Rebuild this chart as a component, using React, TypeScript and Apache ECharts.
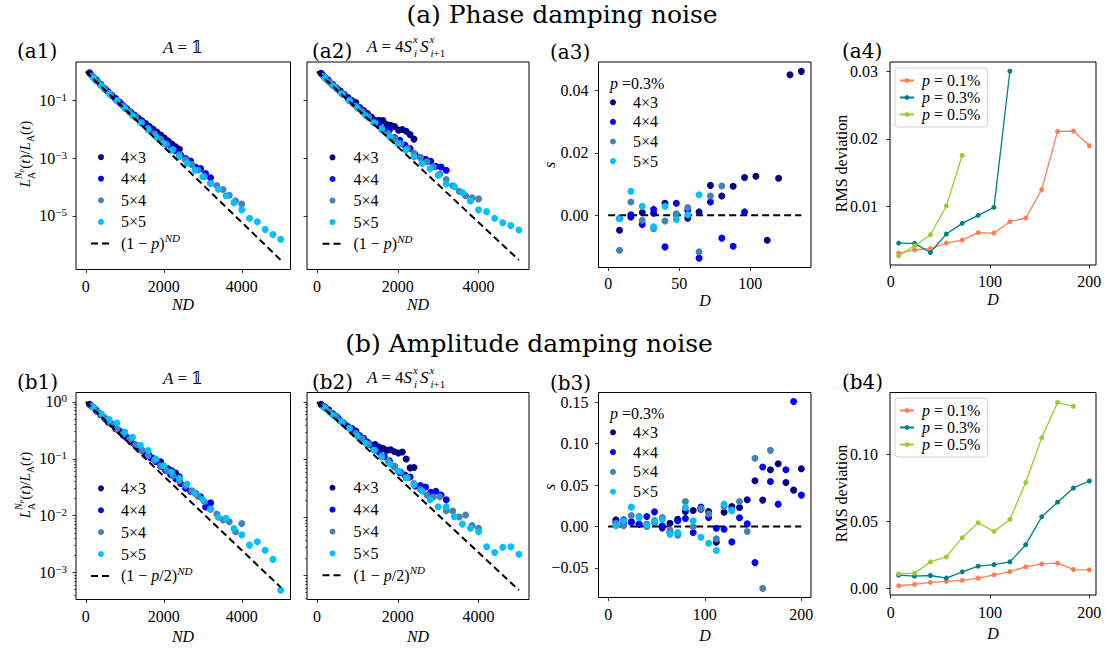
import { useEffect, useRef } from 'react';
import * as echarts from 'echarts';

const SERIF = 'Liberation Serif, DejaVu Serif, DejaVu Sans, serif';
const HEAD = 'DejaVu Serif, Liberation Serif, serif';

// circuit depths and lattice sizes
const depths = [8, 16, 24, 32, 40, 48, 56, 64, 72, 80, 88, 96, 104, 112, 120, 128, 136, 144, 152, 160, 168, 176, 184, 192, 200];
const rmsDepths = [8, 24, 40, 56, 72, 88, 104, 120, 136, 152, 168, 184, 200];
const lattices = ['4×3', '4×4', '5×4', '5×5'];
const siteCounts = [12, 16, 20, 25];
const latticeColors = ['#000080', '#0000ff', '#4682b4', '#00bfff'];
const rmsLabels = ['p = 0.1%', 'p = 0.3%', 'p = 0.5%'];
const rmsColors = ['#ff7f50', '#008080', '#9acd32'];
const RULE_A = '(1 − p)^ND';
const RULE_B = '(1 − p/2)^ND';

// log10 of L_A^{Np}(t)/L_A(t), phase damping, A = 1
const phaseId43 = [-0.045, -0.19, -0.326, -0.451, -0.586, -0.70, -0.827, -0.94, -1.057, -1.18, -1.30, -1.40, -1.51, -1.61, -1.71, -1.80, -1.91, -2.00, -2.10, -2.20, -2.30, -2.41, -2.51, -2.61, -2.69];
const phaseId44 = [-0.097, -0.284, -0.451, -0.628, -0.795, -0.952, -1.109, -1.266, -1.423, -1.57, -1.717, -1.864, -2.011, -2.158, -2.305, -2.452, -2.599, -2.746, -2.893, -3.01, -3.097, -3.304, -3.361, -3.528, -3.675];
const phaseId54 = [-0.159, -0.368, -0.586, -0.795, -0.994, -1.193, -1.391, -1.59, -1.779, -1.968, -2.156, -2.345, -2.524, -2.703, -2.882, -3.06, -3.219, -3.408, -3.637, -3.865, -3.944, -4.083, -4.282, -4.471, -4.589];
const phaseId55 = [-0.231, -0.492, -0.763, -1.024, -1.275, -1.526, -1.777, -2.018, -2.259, -2.49, -2.721, -2.952, -3.172, -3.413, -3.644, -3.875, -4.076, -4.297, -4.538, -4.789, -5.08, -5.201, -5.462, -5.643, -5.804];

// log10 ratio, phase damping, A = 4 S^x_i S^x_{i+1}
const phaseXX43 = [-0.065, -0.201, -0.326, -0.451, -0.566, -0.682, -0.797, -0.902, -1.007, -1.073, -1.248, -1.353, -1.458, -1.574, -1.689, -1.694, -1.699, -1.835, -1.86, -1.905, -2.03, -2.006, -2.071, -2.186, -2.341];
const phaseXX44 = [-0.107, -0.284, -0.451, -0.618, -0.785, -0.942, -1.099, -1.256, -1.413, -1.57, -1.717, -1.864, -1.991, -2.028, -2.285, -2.382, -2.549, -2.666, -2.883, -2.98, -3.037, -3.104, -3.281, -3.308, -3.415];
const phaseXX54 = [-0.169, -0.378, -0.586, -0.795, -0.994, -1.193, -1.391, -1.59, -1.779, -1.968, -2.146, -2.325, -2.494, -2.663, -2.832, -2.98, -3.129, -3.298, -3.547, -3.735, -3.954, -4.143, -4.302, -4.371, -4.409];
const phaseXX55 = [-0.241, -0.502, -0.763, -1.024, -1.275, -1.526, -1.777, -2.018, -2.259, -2.49, -2.721, -2.952, -3.182, -3.363, -3.594, -3.895, -3.986, -4.187, -4.478, -4.789, -4.85, -5.081, -5.232, -5.333, -5.484];

// log10 ratio, amplitude damping, A = 1
const ampId43 = [-0.043, -0.095, -0.168, -0.22, -0.283, -0.356, -0.398, -0.471, -0.513, -0.586, -0.628, -0.701, -0.744, -0.796, -0.849, -0.901, -0.944, -0.996, -1.039, -1.052, -1.164, -1.177, -1.209, -1.252, -1.315];
const ampId44 = [-0.063, -0.137, -0.22, -0.304, -0.377, -0.461, -0.534, -0.617, -0.691, -0.764, -0.838, -0.911, -0.984, -1.048, -1.131, -1.205, -1.278, -1.351, -1.435, -1.518, -1.572, -1.605, -1.668, -1.847, -1.775];
const ampId54 = [-0.074, -0.179, -0.273, -0.377, -0.471, -0.566, -0.66, -0.754, -0.848, -0.943, -1.027, -1.121, -1.205, -1.30, -1.384, -1.468, -1.562, -1.657, -1.751, -1.885, -1.969, -2.074, -2.108, -2.282, -2.137];
const ampId55 = [-0.10, -0.211, -0.311, -0.371, -0.532, -0.622, -0.762, -0.853, -1.003, -1.123, -1.234, -1.344, -1.444, -1.605, -1.715, -1.885, -2.026, -2.046, -2.226, -2.337, -2.517, -2.457, -2.608, -2.768, -3.308];

// log10 ratio, amplitude damping, A = 4 S^x_i S^x_{i+1}
const ampXX43 = [-0.043, -0.085, -0.138, -0.21, -0.253, -0.326, -0.378, -0.431, -0.463, -0.506, -0.588, -0.631, -0.694, -0.746, -0.739, -0.781, -0.804, -0.836, -0.829, -0.862, -0.884, -0.867, -0.989, -1.142, -1.135];
const ampXX44 = [-0.063, -0.127, -0.20, -0.274, -0.357, -0.431, -0.504, -0.577, -0.651, -0.724, -0.798, -0.871, -0.944, -1.018, -1.121, -1.225, -1.268, -1.301, -1.455, -1.448, -1.472, -1.565, -1.548, -1.612, -1.695];
const ampXX54 = [-0.084, -0.179, -0.263, -0.357, -0.451, -0.546, -0.64, -0.734, -0.838, -0.933, -1.027, -1.121, -1.215, -1.31, -1.414, -1.518, -1.612, -1.647, -1.641, -1.885, -1.889, -1.994, -1.958, -2.142, -2.187];
const ampXX55 = [-0.11, -0.231, -0.341, -0.461, -0.592, -0.712, -0.832, -0.953, -1.073, -1.193, -1.314, -1.434, -1.544, -1.695, -1.815, -1.815, -1.986, -2.116, -2.186, -2.247, -2.507, -2.607, -2.518, -2.508, -2.638];

// reference decay curves (ND, value) at the ends of the range
const ruleA = [[0, 1], [5000, 2.99e-7]];
const ruleB = [[0, 1], [5000, 5.5e-4]];

// s versus D at p = 0.3%
const phaseS43 = [-0.0048, -0.0005, 0.0009, 0.0007, 0.0039, 0.0003, -0.0009, 0.0011, 0.0096, 0.0062, 0.0093, 0.0121, 0.0125, -0.008, 0.0119, 0.045, 0.0461];
const phaseS44 = [-0.001, 0.0002, -0.0029, 0.0019, -0.0101, 0.0039, 0.0016, -0.0137, 0.0043, -0.0073, -0.0099, 0.0011];
const phaseS54 = [-0.0112, 0.0043, -0.0016, -0.0043, -0.0018, 0.0005, 0.0025, -0.0117, 0.0062, 0.0094];
const phaseS55 = [-0.0011, 0.0077, 0.0029, -0.0037, 0.0029, -0.0013, 0.0002, 0.0066];

const ampS43 = [0.008, 0.004, 0.006, 0.0024, 0.0028, 0.0048, -0.0016, 0.004, 0.0089, 0.0181, 0.0194, 0.021, 0.0181, -0.019, 0.0173, 0.0242, 0.023, 0.0323, 0.0552, 0.0319, 0.0685, 0.0758, 0.0532, 0.0439, 0.0698];
const ampS44 = [0.005, 0.008, 0.0048, 0.003, 0.0121, 0.0177, 0.0008, -0.0073, 0.0069, 0.0097, -0.0073, 0.0234, 0.0109, -0.002, -0.0032, -0.0185, 0.0105, 0.0032, -0.0435, 0.0718, 0.0544, 0.027, 0.0685, 0.1508, 0.0379];
const ampS54 = [0.004, 0.001, 0.0133, 0.0121, 0.0, 0.0073, 0.0109, -0.004, -0.0105, 0.0302, 0.0, 0.0218, 0.0153, -0.0149, 0.0242, 0.0202, 0.0302, -0.006, 0.0823, -0.0746, 0.0919];
const ampS55 = [0.001, 0.007, 0.0234, 0.0105, 0.002, 0.0056, 0.0089, -0.0093, -0.0073, 0.023, 0.0069, -0.0129, -0.0202, -0.029, 0.027, 0.019];

// RMS deviation versus D
const phaseRms01 = [0.00314, 0.00363, 0.00378, 0.00462, 0.00506, 0.00615, 0.0061, 0.00778, 0.00832, 0.01252, 0.02111, 0.02116, 0.01899];
const phaseRms03 = [0.00462, 0.00457, 0.00323, 0.00595, 0.00753, 0.00872, 0.0099, 0.03];
const phaseRms05 = [0.00274, 0.00422, 0.00585, 0.0101, 0.01756];
const ampRms01 = [0.00198, 0.00296, 0.00444, 0.00519, 0.00593, 0.00765, 0.01012, 0.01259, 0.01605, 0.01827, 0.01877, 0.01407, 0.01383];
const ampRms03 = [0.00988, 0.00914, 0.00963, 0.00765, 0.01235, 0.01654, 0.01778, 0.01975, 0.03259, 0.05333, 0.0642, 0.07481, 0.08];
const ampRms05 = [0.01086, 0.01136, 0.01975, 0.02346, 0.03778, 0.04889, 0.04247, 0.05136, 0.07901, 0.1121, 0.1385, 0.1356];

// plot rectangles: left, top, width, height
const boxes = [
  [76, 62, 214.5, 207.5],
  [307, 62, 222, 207.5],
  [598.5, 62, 212.5, 205.5],
  [890, 62, 206, 203],
  [76, 392.5, 214.5, 207],
  [307, 392.5, 222, 207],
  [598.5, 392.5, 212.5, 205],
  [890, 392.5, 206, 202.5],
];

let measureCtx: CanvasRenderingContext2D | null = null;
function textWidth(t: string, size: number, italic: boolean) {
  if (!measureCtx) measureCtx = document.createElement('canvas').getContext('2d');
  measureCtx!.font = `${italic ? 'italic ' : ''}${size}px ${SERIF}`;
  return measureCtx!.measureText(t).width;
}

// a run of text pieces laid out left to right; a stacked piece shares its x with the next one
type Seg = { t: string; it?: boolean; sz?: number; dy?: number; stack?: boolean; gap?: number };
function mathLabel(segs: Seg[], x: number, y: number, align: 'left' | 'center', rotation = 0, base = 16) {
  let cx = 0;
  const kids: any[] = [];
  for (const s of segs) {
    const size = s.sz ?? base;
    cx += s.gap ?? 0;
    kids.push({
      type: 'text', x: cx, y: s.dy ?? 0,
      style: { text: s.t, fontSize: size, fontFamily: SERIF, fontStyle: s.it ? 'italic' : 'normal', fill: '#000', align: 'left', verticalAlign: 'middle' },
    });
    if (!s.stack) cx += textWidth(s.t, size, !!s.it);
  }
  const shift = align === 'center' ? -cx / 2 : 0;
  kids.forEach((k) => { k.x += shift; });
  return { type: 'group', x, y, rotation, children: kids };
}

function plainText(text: string, x: number, y: number, size: number, font = SERIF, italic = false, align = 'center', rotation = 0) {
  return {
    type: 'text', x, y, rotation,
    style: { text, fontSize: size, fontFamily: font, fontStyle: italic ? 'italic' : 'normal', fill: '#000', align, verticalAlign: 'middle' },
  };
}

const tickLine = { color: '#000', width: 0.8 };
const labelRich = {
  b: { fontSize: 16, fontFamily: SERIF, color: '#000', lineHeight: 18 },
  s: { fontSize: 11, fontFamily: SERIF, color: '#000', verticalAlign: 'top', lineHeight: 10 },
};
const powLabel = (v: number) => {
  const e = Math.round(Math.log10(v));
  return `{b|10}{s|${e < 0 ? '−' : ''}${Math.abs(e)}}`;
};
const decimal2 = (v: number) => (v < 0 ? '−' : '') + Math.abs(v).toFixed(2);

function valueAxis(gridIndex: number, min: number, max: number, ticks: number[], fmt: (v: number) => string, margin: number) {
  return {
    type: 'value', gridIndex, min, max,
    splitLine: { show: false },
    axisLine: { show: false, onZero: false },
    axisTick: { show: true, length: 3.5, customValues: ticks, lineStyle: tickLine },
    axisLabel: { show: true, customValues: ticks, formatter: fmt, fontFamily: SERIF, fontSize: 16, color: '#000', margin },
  };
}
function logAxis(gridIndex: number, min: number, max: number, ticks: number[], showLabels: boolean) {
  return {
    type: 'log', logBase: 10, gridIndex, min, max,
    splitLine: { show: false },
    minorTick: { show: false },
    axisLine: { show: false, onZero: false },
    axisTick: { show: true, length: 3.5, customValues: ticks, lineStyle: tickLine },
    axisLabel: { show: showLabels, customValues: ticks, formatter: powLabel, fontFamily: SERIF, rich: labelRich, margin: 9 },
  };
}
function minorLogAxis(gridIndex: number, min: number, max: number, ticks: number[]) {
  return {
    type: 'log', logBase: 10, gridIndex, min, max, position: 'left',
    splitLine: { show: false },
    axisLine: { show: false, onZero: false },
    axisTick: { show: true, length: 2, customValues: ticks, lineStyle: { color: '#000', width: 0.6 } },
    axisLabel: { show: false },
  };
}

function ratioSeries(panel: number, logs: number[][], ruleName: string, rule: number[][]) {
  const out: any[] = logs.map((arr, s) => ({
    type: 'scatter', name: lattices[s], xAxisIndex: panel, yAxisIndex: panel,
    symbolSize: 7, itemStyle: { color: latticeColors[s], opacity: 1 },
    data: arr.map((v, k) => [siteCounts[s] * depths[k], Math.pow(10, v)]),
  }));
  out.push({
    type: 'line', name: ruleName, xAxisIndex: panel, yAxisIndex: panel, symbol: 'none',
    lineStyle: { color: '#000', width: 2, type: [7, 4] }, itemStyle: { color: 'rgba(0,0,0,0)' }, data: rule, z: 3,
  });
  return out;
}
function sSeries(panel: number, sets: number[][], lastD: number) {
  const out: any[] = sets.map((arr, s) => ({
    type: 'scatter', name: lattices[s], xAxisIndex: panel, yAxisIndex: panel,
    symbolSize: 7, itemStyle: { color: latticeColors[s], opacity: 1 },
    data: arr.map((v, k) => [depths[k], v]),
  }));
  out.unshift({
    type: 'line', name: 'zero', xAxisIndex: panel, yAxisIndex: panel, symbol: 'none',
    lineStyle: { color: '#000', width: 2, type: [7, 4] }, data: [[0, 0], [lastD, 0]], z: 1,
  });
  return out;
}
function rmsSeries(panel: number, sets: number[][]) {
  return sets.map((arr, s) => ({
    type: 'line', name: rmsLabels[s], xAxisIndex: panel, yAxisIndex: panel,
    symbol: 'circle', symbolSize: 5, showSymbol: true,
    lineStyle: { color: rmsColors[s], width: 1.3 }, itemStyle: { color: rmsColors[s] },
    data: arr.map((v, k) => [rmsDepths[k], v]),
  }));
}

function legendRich(rowH: number, pad: number) {
  return {
    f: { fontSize: 16, fontFamily: SERIF, color: '#000', lineHeight: rowH, padding: [0, 0, 0, pad] },
    fi: { fontSize: 16, fontFamily: SERIF, fontStyle: 'italic', color: '#000', lineHeight: rowH, padding: [0, 0, 0, pad] },
    t: { fontSize: 16, fontFamily: SERIF, color: '#000', lineHeight: rowH },
    i: { fontSize: 16, fontFamily: SERIF, fontStyle: 'italic', color: '#000', lineHeight: rowH },
    s: { fontSize: 11, fontFamily: SERIF, fontStyle: 'italic', color: '#000', lineHeight: 13, verticalAlign: 'top' },
  };
}
const legendFormatter = (name: string) => {
  if (name === RULE_A) return '{f|(1 − }{i|p}{t|)}{s|ND}';
  if (name === RULE_B) return '{f|(1 − }{i|p}{t|/2)}{s|ND}';
  if (name.startsWith('p = ')) return `{fi|p}{t|${name.slice(1)}}`;
  return `{f|${name}}`;
};
function makeLegend(left: number, top: number, rowH: number, names: string[], iconW: number, pad: number, boxed = false) {
  return {
    orient: 'vertical', left, top, itemGap: 0, itemWidth: iconW, itemHeight: 6,
    padding: boxed ? [4, 7, 4, 4] : 0,
    selectedMode: false,
    data: names.map((n) => (n === RULE_A || n === RULE_B ? { name: n, itemStyle: { opacity: 0 } } : n)),
    formatter: legendFormatter,
    textStyle: { fontFamily: SERIF, fontSize: 16, color: '#000', lineHeight: rowH, rich: legendRich(rowH, pad) },
    ...(boxed ? { borderColor: '#d0d0d0', borderWidth: 1, borderRadius: 3, backgroundColor: 'rgba(255,255,255,0.8)' } : {}),
  };
}

function buildOption() {
  const minorTicks: number[] = [];
  for (let e = -4; e <= -1; e++) for (let m = 2; m <= 9; m++) minorTicks.push(m * Math.pow(10, e));

  const grid = boxes.map(([left, top, width, height]) => ({
    left, top, width, height, show: true, borderColor: '#000', borderWidth: 1, containLabel: false,
  }));
  const ndFmt = (v: number) => String(v);
  const xAxis = [
    valueAxis(0, -250, 5250, [0, 2000, 4000], ndFmt, 9),
    valueAxis(1, -250, 5250, [0, 2000, 4000], ndFmt, 9),
    valueAxis(2, -6.8, 142.8, [0, 50, 100], ndFmt, 8),
    valueAxis(3, -0.7, 206.7, [0, 100, 200], ndFmt, 8),
    valueAxis(4, -250, 5250, [0, 2000, 4000], ndFmt, 9),
    valueAxis(5, -250, 5250, [0, 2000, 4000], ndFmt, 9),
    valueAxis(6, -10, 210, [0, 100, 200], ndFmt, 9),
    valueAxis(7, -0.7, 206.7, [0, 100, 200], ndFmt, 9),
  ];
  const phaseDecades = [1e-5, 1e-3, 1e-1];
  const ampDecades = [1e-3, 1e-2, 1e-1, 1];
  const yAxis = [
    logAxis(0, 1.41e-7, 2.12, phaseDecades, true),
    logAxis(1, 1.41e-7, 2.12, phaseDecades, false),
    valueAxis(2, -0.0167, 0.0491, [0, 0.02, 0.04], decimal2, 10),
    valueAxis(3, 0.00138, 0.03136, [0.01, 0.02, 0.03], decimal2, 12),
    logAxis(4, 3.365e-4, 1.462, ampDecades, true),
    logAxis(5, 3.793e-4, 1.455, ampDecades, false),
    valueAxis(6, -0.0856, 0.1617, [-0.05, 0, 0.05, 0.1, 0.15], decimal2, 10),
    valueAxis(7, -0.0049, 0.1459, [0, 0.05, 0.1], decimal2, 12),
    minorLogAxis(4, 3.365e-4, 1.462, minorTicks),
    minorLogAxis(5, 3.793e-4, 1.455, minorTicks),
  ];

  const series = [
    ...ratioSeries(0, [phaseId43, phaseId44, phaseId54, phaseId55], RULE_A, ruleA),
    ...ratioSeries(1, [phaseXX43, phaseXX44, phaseXX54, phaseXX55], RULE_A, ruleA),
    ...sSeries(2, [phaseS43, phaseS44, phaseS54, phaseS55], 136),
    ...rmsSeries(3, [phaseRms01, phaseRms03, phaseRms05]),
    ...ratioSeries(4, [ampId43, ampId44, ampId54, ampId55], RULE_B, ruleB),
    ...ratioSeries(5, [ampXX43, ampXX44, ampXX54, ampXX55], RULE_B, ruleB),
    ...sSeries(6, [ampS43, ampS44, ampS54, ampS55], 200),
    ...rmsSeries(7, [ampRms01, ampRms03, ampRms05]),
  ];

  const legend = [
    makeLegend(90, 146.3, 21.6, [...lattices, RULE_A], 20, 5),
    makeLegend(321.5, 146.6, 21.6, [...lattices, RULE_A], 20, 6),
    makeLegend(610, 92.5, 19.6, lattices, 20, 5),
    makeLegend(895, 68, 17, rmsLabels, 14, 3, true),
    makeLegend(90, 477.4, 21.9, [...lattices, RULE_B], 20, 5),
    makeLegend(321.5, 476.8, 21.9, [...lattices, RULE_B], 20, 6),
    makeLegend(610, 422.4, 19.8, lattices, 20, 5),
    makeLegend(895, 398, 17, rmsLabels, 14, 3, true),
  ];

  const identityTitle: Seg[] = [{ t: 'A', it: true }, { t: '=', gap: 4 }, { t: '𝟙', gap: 4 }];
  const pairTitle: Seg[] = [
    { t: 'A', it: true }, { t: '=', gap: 4 }, { t: '4', gap: 4 }, { t: 'S', it: true },
    { t: 'x', it: true, sz: 11, dy: -7.5, stack: true, gap: 1 }, { t: 'i', it: true, sz: 11, dy: 6.5, gap: 1 },
    { t: 'S', it: true, gap: 3 },
    { t: 'x', it: true, sz: 11, dy: -7.5, stack: true, gap: 1 }, { t: 'i', it: true, sz: 11, dy: 6.5, gap: 1 }, { t: '+1', sz: 11, dy: 6.5 },
  ];
  const ratioName: Seg[] = [
    { t: 'L', it: true }, { t: 'A', sz: 10, dy: 6, stack: true }, { t: 'N', it: true, sz: 10, dy: -7 }, { t: 'p', it: true, sz: 7, dy: -4 },
    { t: '(' }, { t: 't', it: true }, { t: ')/' }, { t: 'L', it: true }, { t: 'A', sz: 10, dy: 5 }, { t: '(' }, { t: 't', it: true }, { t: ')' },
  ];
  const pLabel: Seg[] = [{ t: 'p', it: true }, { t: ' =0.3%' }];
  const R = Math.PI / 2;

  const graphic = [
    plainText('(a) Phase damping noise', 562, 14, 25, HEAD),
    plainText('(b) Amplitude damping noise', 529, 343, 25, HEAD),
    plainText('(a1)', 17, 51, 20, HEAD, false, 'left'),
    plainText('(a2)', 312, 51, 20, HEAD, false, 'left'),
    plainText('(a3)', 550, 52, 20, HEAD, false, 'left'),
    plainText('(a4)', 842, 51, 20, HEAD, false, 'left'),
    plainText('(b1)', 17, 382, 20, HEAD, false, 'left'),
    plainText('(b2)', 312, 382, 20, HEAD, false, 'left'),
    plainText('(b3)', 550, 383, 20, HEAD, false, 'left'),
    plainText('(b4)', 842, 382, 20, HEAD, false, 'left'),
    mathLabel(identityTitle, 183, 47, 'center', 0, 17),
    mathLabel(identityTitle, 183, 378, 'center', 0, 17),
    mathLabel(pairTitle, 367, 46, 'left', 0, 17),
    mathLabel(pairTitle, 367, 377, 'left', 0, 17),
    plainText('ND', 183, 304, 16, SERIF, true),
    plainText('ND', 418, 304, 16, SERIF, true),
    plainText('D', 705, 300, 16, SERIF, true),
    plainText('D', 993, 299, 16, SERIF, true),
    plainText('ND', 183, 636, 16, SERIF, true),
    plainText('ND', 418, 636, 16, SERIF, true),
    plainText('D', 705, 635, 16, SERIF, true),
    plainText('D', 993, 633, 16, SERIF, true),
    mathLabel(ratioName, 25, 154, 'center', R, 15),
    mathLabel(ratioName, 25, 485, 'center', R, 15),
    plainText('s', 549, 165, 16, SERIF, true, 'center', R),
    plainText('s', 549, 487, 16, SERIF, true, 'center', R),
    plainText('RMS deviation', 841, 163.5, 16, SERIF, false, 'center', R),
    plainText('RMS deviation', 841, 493.5, 16, SERIF, false, 'center', R),
    mathLabel(pLabel, 610, 83, 'left', 0, 16),
    mathLabel(pLabel, 610, 413, 'left', 0, 16),
  ];

  return { animation: false, backgroundColor: '#fff', grid, xAxis, yAxis, series, legend, graphic };
}

export default function App() {
  const ref = useRef<HTMLDivElement>(null);
  useEffect(() => {
    const chart = echarts.init(ref.current!, null, { renderer: 'svg' });
    chart.setOption(buildOption() as any);
    return () => chart.dispose();
  }, []);
  return <div ref={ref} style={{ position: 'absolute', left: 0, top: 0, width: 1105, height: 652, background: '#fff' }} />;
}
